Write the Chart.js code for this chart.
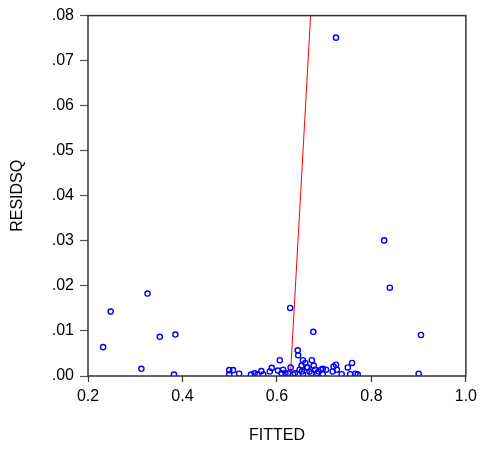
<!DOCTYPE html>
<html>
<head>
<meta charset="utf-8">
<script src="https://cdn.jsdelivr.net/npm/chart.js@4"></script>
<style>
  html, body { margin: 0; padding: 0; background: #fff; }
  #wrap { width: 482px; height: 449px; }
</style>
</head>
<body>
<div id="wrap"><canvas id="chart" width="482" height="449"></canvas></div>
<script>
// fitted values vs squared residuals
const fitted = [
  0.725, 0.827, 0.839, 0.628, 0.677, 0.905, 0.248, 0.326, 0.352, 0.385,
  0.232, 0.313, 0.382, 0.900,
  0.499, 0.507, 0.499, 0.520, 0.545, 0.553, 0.559, 0.567, 0.571, 0.585,
  0.589, 0.602, 0.606, 0.610, 0.613, 0.618, 0.624, 0.629, 0.634, 0.644,
  0.645, 0.648, 0.652, 0.653, 0.655, 0.660, 0.663, 0.655, 0.669, 0.673,
  0.674, 0.678, 0.681, 0.685, 0.688, 0.693, 0.697, 0.704, 0.697, 0.720,
  0.725, 0.727, 0.718, 0.737, 0.750, 0.759, 0.755, 0.766, 0.771, 0.638,
  0.665
];
const residsq = [
  0.0751, 0.0301, 0.0196, 0.0151, 0.0098, 0.0091, 0.0143, 0.0183, 0.0087, 0.0092,
  0.0064, 0.0016, 0.0003, 0.0005,
  0.0013, 0.0013, 0.0004, 0.0005, 0.0003, 0.0006, 0.0003, 0.0011, 0.0003, 0.0010,
  0.0018, 0.0012, 0.0035, 0.0006, 0.0014, 0.0006, 0.0006, 0.0019, 0.0004, 0.0057,
  0.0046, 0.0014, 0.0023, 0.0010, 0.0035, 0.0029, 0.0019, 0.0004, 0.0010, 0.0006,
  0.0035, 0.0023, 0.0014, 0.0006, 0.0010, 0.0014, 0.0016, 0.0014, 0.0004, 0.0021,
  0.0025, 0.0014, 0.0010, 0.0004, 0.0019, 0.0029, 0.0004, 0.0005, 0.0003, 0.0006,
  0.0019
];

// red fit line endpoints
const lineX = [0.6285, 0.6713];
const lineY = [0.0, 0.08];

const xTickLabels = ["0.2", "0.4", "0.6", "0.8", "1.0"];
const yTickLabels = [".00", ".01", ".02", ".03", ".04", ".05", ".06", ".07", ".08"];

const FONT = "'Liberation Sans', Arial, sans-serif";

// box around the plot area
const frame = {
  id: "frame",
  afterDraw(chart) {
    const { ctx, chartArea: a } = chart;
    ctx.save();
    ctx.strokeStyle = "#333";
    ctx.lineWidth = 1.5;
    ctx.strokeRect(a.left, a.top, a.right - a.left, a.bottom - a.top);
    ctx.restore();
  },
};

const points = fitted.map((x, i) => ({ x: x, y: residsq[i] }));
const linePts = lineX.map((x, i) => ({ x: x, y: lineY[i] }));

new Chart(document.getElementById("chart"), {
  type: "scatter",
  data: {
    datasets: [
      {
        label: "RESIDSQ",
        data: points,
        pointStyle: "circle",
        pointRadius: 2.6,
        borderWidth: 1.4,
        borderColor: "#0000ff",
        backgroundColor: "rgba(0,0,0,0)",
      },
      {
        label: "fit",
        data: linePts,
        showLine: true,
        pointRadius: 0,
        borderColor: "#ff0000",
        borderWidth: 1,
      },
    ],
  },
  options: {
    responsive: false,
    animation: false,
    layout: { padding: { top: 15, right: 14, left: 0, bottom: 0 } },
    plugins: {
      legend: { display: false },
      tooltip: { enabled: false },
    },
    scales: {
      x: {
        type: "linear",
        min: 0.2,
        max: 1.0,
        afterFit: (s) => { s.height = 73; },
        afterBuildTicks: (s) => {
          s.ticks = xTickLabels.map((t) => ({ value: parseFloat(t) }));
        },
        ticks: {
          color: "#000",
          font: { family: FONT, size: 16 },
          padding: 5,
          maxRotation: 0,
          callback: (v, i) => xTickLabels[i],
        },
        grid: { drawOnChartArea: false, drawTicks: true, tickLength: 6, color: "#333", tickWidth: 1.2 },
        border: { display: false },
        title: {
          display: true,
          text: "FITTED",
          color: "#000",
          font: { family: FONT, size: 16 },
          padding: { top: 0, bottom: 4 },
        },
      },
      y: {
        type: "linear",
        min: 0,
        max: 0.08,
        afterFit: (s) => { s.width = 88; },
        afterBuildTicks: (s) => {
          s.ticks = yTickLabels.map((t) => ({ value: parseFloat("0" + t) }));
        },
        ticks: {
          color: "#000",
          font: { family: FONT, size: 16 },
          padding: 6,
          callback: (v, i) => yTickLabels[i],
        },
        grid: { drawOnChartArea: false, drawTicks: true, tickLength: 8, color: "#555", tickWidth: 1.2 },
        border: { display: false },
        title: {
          display: true,
          text: "RESIDSQ",
          color: "#000",
          font: { family: FONT, size: 16 },
          padding: { top: 8, bottom: 0 },
        },
      },
    },
  },
  plugins: [frame],
});
</script>
</body>
</html>
